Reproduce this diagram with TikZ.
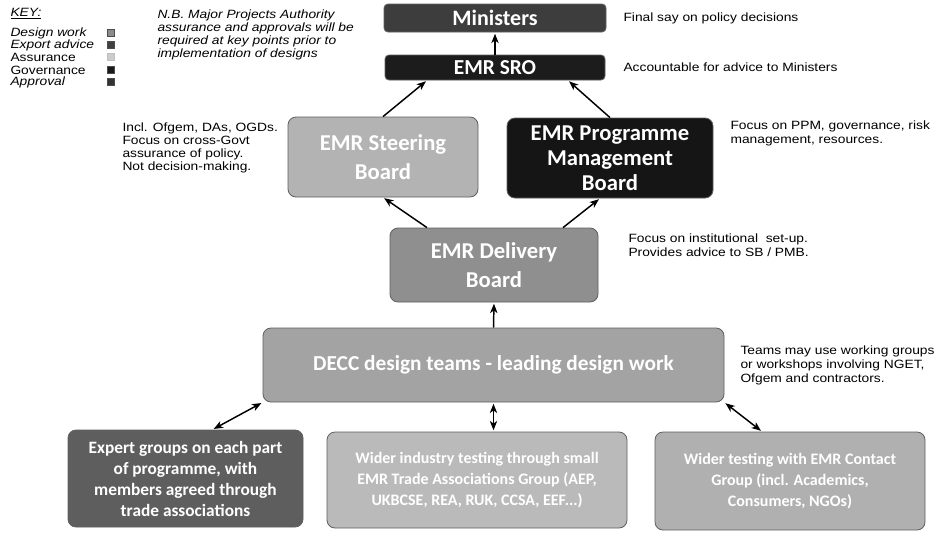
\documentclass[tikz,border=0pt]{standalone}
\usepackage{fontspec}
\setmainfont{Liberation Sans}
\newfontfamily\boxfont{Carlito}
\newfontfamily\notefont[FakeStretch=1.15]{Liberation Sans}
\usetikzlibrary{arrows.meta,calc}

\definecolor{minfill}{RGB}{61,61,61}
\definecolor{srofill}{RGB}{28,28,28}
\definecolor{pmbfill}{RGB}{21,21,21}
\definecolor{steerfill}{RGB}{179,179,179}
\definecolor{delivfill}{RGB}{143,143,143}
\definecolor{deccfill}{RGB}{163,163,163}
\definecolor{expertfill}{RGB}{94,94,94}
\definecolor{tradefill}{RGB}{186,186,186}
\definecolor{contactfill}{RGB}{176,176,176}
\definecolor{edgegrey}{RGB}{95,95,95}

\newcommand\boxsize[2]{\boxfont\bfseries\fontsize{#1}{#2}\selectfont}

\tikzset{every picture/.style={line width=0.75pt}}
\tikzset{
  panel/.style={draw=edgegrey, line width=0.6pt, rounded corners=6pt, align=center, text=white, inner sep=0pt},
  conn/.style={-{Stealth[length=7pt,width=5.5pt,inset=2pt]}, line width=1.1pt, shorten >=1pt},
  twoway/.style={{Stealth[length=7pt,width=5.5pt,inset=2pt]}-{Stealth[length=7pt,width=5.5pt,inset=2pt]}, line width=1.1pt, shorten >=1pt, shorten <=1pt},
  note/.style={anchor=west, inner sep=0pt, align=left, font=\notefont\fontsize{9}{10.5}\selectfont},
  keytext/.style={anchor=west, inner sep=0pt, font=\notefont\fontsize{9}{9}\selectfont},
  keysq/.style={draw=black!70, line width=0.3pt, minimum size=5.25pt, inner sep=0pt},
}

\begin{document}
\begin{tikzpicture}[x=0.75pt,y=0.75pt,yscale=-1,xscale=1]
\path[use as bounding box, fill=white] (0,0) rectangle (942,532);

% Key
\node[keytext] (keyhead) at (10,14) {\itshape\underline{KEY:}};
\node[keytext] (kdesign) at (10,33) {\itshape Design work};
\node[keytext] (kexpert) at (10,45) {\itshape Export advice};
\node[keytext] (kassure) at (10,57) {Assurance};
\node[keytext] (kgovern) at (10,70) {Governance};
\node[keytext] (kapprove) at (10,82) {\itshape Approval};
\node[keysq, fill=black!45] (sqdesign) at (111,33) {};
\node[keysq, fill=black!75] (sqexpert) at (111,45) {};
\node[keysq, fill=black!20, draw=black!25] (sqassure) at (111,57) {};
\node[keysq, fill=black!90] (sqgovern) at (111,70) {};
\node[keysq, fill=black!80] (sqapprove) at (111,82) {};

% N.B. note
\node[note, font=\notefont\itshape\fontsize{9}{9.75}\selectfont] (nbnote) at (157,35) {N.B. Major Projects Authority\\assurance and approvals will be\\required at key points prior to\\implementation of designs};

% Boxes
\node[panel, fill=minfill, rounded corners=3pt, minimum width=166.5pt, minimum height=21pt, font=\boxsize{16.5}{18}] (mini) at (495,18) {Ministers};
\node[panel, fill=srofill, rounded corners=3pt, minimum width=165pt, minimum height=18.75pt, font=\boxsize{16}{18}] (sro) at (495,67.5) {EMR SRO};
\node[panel, fill=steerfill, minimum width=142.5pt, minimum height=60pt, font=\boxsize{17}{22}] (steer) at (383,157) {EMR Steering\\Board};
\node[panel, fill=pmbfill, minimum width=154.5pt, minimum height=60pt, font=\boxsize{17}{18.75}] (pmb) at (610,158) {EMR Programme\\Management\\Board};
\node[panel, fill=delivfill, minimum width=156pt, minimum height=55.5pt, font=\boxsize{17}{22}] (deliv) at (494,265) {EMR Delivery\\Board};
\node[panel, fill=deccfill, minimum width=345.75pt, minimum height=55.5pt, font=\boxsize{16}{18}] (decc) at (493.5,365) {DECC design teams - leading design work};
\node[panel, fill=expertfill, minimum width=176.25pt, minimum height=72.75pt, font=\boxsize{13}{15.75}] (expert) at (185.5,478.5) {Expert groups on each part\\of programme, with\\members agreed through\\trade associations};
\node[panel, fill=tradefill, minimum width=225pt, minimum height=72pt, font=\boxsize{12}{15.75}] (trade) at (477,480) {Wider industry testing through small\\EMR Trade Associations Group (AEP,\\UKBCSE, REA, RUK, CCSA, EEF...)};
\node[panel, fill=contactfill, minimum width=202.5pt, minimum height=73.5pt, font=\boxsize{12}{16}] (contact) at (790,481) {Wider testing with EMR Contact\\Group (incl. Academics,\\Consumers, NGOs)};

% Notes
\node[note] (finalnote) at (623,18) {Final say on policy decisions};
\node[note] (sronote) at (623,67) {Accountable for advice to Ministers};
\node[note, font=\notefont\fontsize{9}{9.75}\selectfont] (steernote) at (122,148) {Incl. Ofgem, DAs, OGDs.\\Focus on cross-Govt\\assurance of policy.\\Not decision-making.};
\node[note] (pmbnote) at (730,133) {Focus on PPM, governance, risk\\management, resources.};
\node[note] (delivnote) at (628,245) {Focus on institutional \ set-up.\\Provides advice to SB / PMB.};
\node[note] (deccnote) at (740,365) {Teams may use working groups\\or workshops involving NGET,\\Ofgem and contractors.};

% Connectors
\draw[conn] (sro.north) -- (mini.south);
\draw[conn] (steer.north) -- ($(sro.south)+(-68,0)$);
\draw[conn] (pmb.north) -- ($(sro.south)+(73,0)$);
\draw[conn] ($(deliv.north)+(-67,0)$) -- (steer.south);
\draw[conn] ($(deliv.north)+(69,0)$) -- ($(pmb.south)+(-10,0)$);
\draw[conn] (decc.north) -- (deliv.south);
\draw[twoway] (decc.south west) -- ($(expert.north)+(27,0)$);
\draw[twoway] (decc.south) -- (decc.south |- trade.north);
\draw[twoway] (decc.south east) -- ($(contact.north)+(-28,0)$);

\end{tikzpicture}
\end{document}
